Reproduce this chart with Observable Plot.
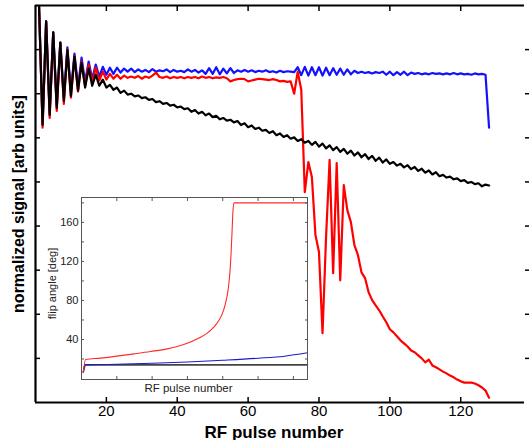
<!DOCTYPE html>
<html><head><meta charset="utf-8">
<script src="https://cdn.jsdelivr.net/npm/d3@7"></script>
<script src="https://cdn.jsdelivr.net/npm/@observablehq/plot@0.6"></script>
<style>
body{margin:0;background:#fff;}
#wrap{position:relative;width:529px;height:440px;font-family:"Liberation Sans",Arial,sans-serif;}
#inset{position:absolute;left:40px;top:190px;}
</style></head><body><div id="wrap"><div id="main"></div><div id="inset"></div></div>
<script>
const FONT = '"Liberation Sans", Arial, sans-serif';
const pulses = d3.range(1, 129);

const blackSignal = [8.98, 6.30, 8.64, 6.52, 8.39, 6.68, 8.16, 6.84, 7.99, 6.95, 7.84, 7.07, 7.70, 7.14, 7.57, 7.18, 7.43, 7.18, 7.32, 7.14, 7.20, 7.09, 7.14, 7.02, 7.07, 6.98, 7.00,
  6.94, 6.96, 6.90, 6.92, 6.86, 6.88, 6.81, 6.83, 6.77, 6.79, 6.73, 6.75, 6.69, 6.71, 6.65,
  6.67, 6.59, 6.63, 6.55, 6.59, 6.51, 6.55, 6.47, 6.50, 6.42,
  6.45, 6.39, 6.41, 6.35,
  6.38, 6.29, 6.33, 6.24, 6.28, 6.20,
  6.23, 6.16, 6.18,
  6.11, 6.15, 6.06, 6.10, 6.02, 6.06, 5.98,
  6.01, 5.93, 5.97, 5.89, 5.93,
  5.84, 5.91, 5.80, 5.87, 5.76, 5.83, 5.72, 5.79, 5.68, 5.75, 5.64, 5.71, 5.60, 5.67, 5.56, 5.63, 5.52, 5.59, 5.48, 5.55, 5.44, 5.51,
  5.41, 5.45, 5.37, 5.41,
  5.33, 5.38, 5.29, 5.34, 5.25, 5.30, 5.21, 5.26, 5.17, 5.22, 5.13,
  5.16, 5.10, 5.12, 5.06, 5.08, 5.02, 5.04, 4.98, 5.00, 4.95, 4.97, 4.90, 4.94, 4.92];

const blueSignal = [8.98, 6.30, 8.64, 6.57, 8.39, 6.75, 8.16, 6.91, 8.05, 7.05, 7.91, 7.16, 7.82, 7.27, 7.73, 7.34, 7.66, 7.39, 7.61, 7.43, 7.59, 7.45, 7.59, 7.48, 7.57, 7.50, 7.57,
  7.49, 7.55, 7.50, 7.54, 7.49, 7.56, 7.50, 7.53, 7.51, 7.55, 7.49, 7.54, 7.50, 7.52, 7.49, 7.55, 7.50, 7.54, 7.48, 7.53,
  7.45, 7.58, 7.45, 7.60, 7.44, 7.57, 7.46, 7.58, 7.47,
  7.53, 7.50, 7.54, 7.50, 7.53, 7.49, 7.52, 7.50, 7.53, 7.49, 7.51, 7.48, 7.52, 7.49, 7.51, 7.50,
  7.49, 7.60, 7.42, 7.61, 7.41, 7.60, 7.42, 7.60, 7.41, 7.59, 7.42, 7.58, 7.43, 7.57, 7.43, 7.55, 7.44, 7.52,
  7.47, 7.50, 7.47, 7.49, 7.46, 7.49, 7.47,
  7.50, 7.43, 7.50, 7.42, 7.49, 7.43, 7.50, 7.42, 7.48,
  7.45, 7.47, 7.44, 7.46, 7.44, 7.47, 7.45, 7.46, 7.44, 7.46, 7.44, 7.47, 7.44, 7.46, 7.44, 7.45, 7.43, 7.46, 7.44, 7.45,
  7.43, 6.23];

const redSignal = [8.98, 6.23, 8.64, 6.45, 8.39, 6.61, 8.16, 6.77, 8.00, 6.91, 7.86, 7.05, 7.73, 7.18, 7.66, 7.25, 7.59, 7.30, 7.50, 7.32, 7.45, 7.34, 7.43, 7.34, 7.41, 7.36,
  7.39, 7.36, 7.40, 7.34, 7.39, 7.36, 7.41, 7.48, 7.38, 7.36, 7.39, 7.35, 7.38, 7.36, 7.38, 7.35, 7.38, 7.36, 7.38, 7.35, 7.39, 7.36, 7.38, 7.35, 7.37, 7.36, 7.38, 7.35,
  7.28, 7.31, 7.33, 7.34, 7.33, 7.28, 7.30, 7.32, 7.34, 7.33, 7.32, 7.31, 7.33, 7.31, 7.28, 7.29, 7.27, 7.28,
  7.00, 7.50, 7.09, 4.77, 5.45, 5.11, 3.80, 3.41, 1.57, 3.75, 5.50, 2.93, 5.43, 2.77, 4.93, 4.36, 4.09, 3.57, 3.34, 2.95, 2.82, 2.50, 2.32, 2.20, 2.09, 1.95, 1.82, 1.66, 1.59, 1.50, 1.41, 1.34, 1.27, 1.18, 1.14, 1.07, 1.00, 0.91, 0.97, 0.84, 0.80, 0.75, 0.70, 0.66, 0.61, 0.57, 0.52, 0.48, 0.45, 0.45, 0.45, 0.43, 0.39, 0.34, 0.27, 0.11];

const xTicks = [20, 40, 60, 80, 100, 120];
const yTicks = [1, 2, 3, 4, 5, 6, 7, 8];

// inset: flip angle schedules
const insetRedPulse = [1, 2.3, 10.8, 29.6, 39.1, 48.5, 57.9, 67.4, 71.2, 74.9, 77.8, 79.7, 81.5, 83.0, 84.0, 84.7, 85.3, 85.7, 86.3, 128];
const insetRedAngle = [6.5, 19.5, 20.9, 25.3, 27.7, 30.4, 34.9, 42.4, 46.5, 52.6, 59.5, 66.3, 76.6, 90.3, 107.4, 127.9, 151.8, 168.9, 180, 180];
const insetBluePulse = [1, 2, 20, 40, 60, 80, 100, 115, 128];
const insetBlueAngle = [6.5, 14, 14.6, 15.6, 16.9, 18.7, 20.8, 22.9, 26.4];
const insetBlackPulse = [1, 2, 128];
const insetBlackAngle = [6.5, 14, 14];
const insetYTicks = [20, 40, 60, 80, 100, 120, 140, 160, 180];
const insetYLabels = [40, 80, 120, 160];
const insetXTicks = [20, 40, 60, 80, 100, 120];

const toRows = (xs, ys) => ys.map((v, i) => ({n: xs[i], v}));

const main = Plot.plot({
  width: 529, height: 440,
  marginLeft: 35, marginRight: 5, marginTop: 5, marginBottom: 38,
  style: {fontFamily: FONT, fontSize: "15px", background: "white", overflow: "visible"},
  x: {domain: [0, 138]},
  y: {domain: [0, 9]},
  marks: [
    Plot.line(toRows(pulses, blueSignal), {x: "n", y: "v", stroke: "#1212ff", strokeWidth: 2.2}),
    Plot.line(toRows(pulses, redSignal), {x: "n", y: "v", stroke: "#ff0000", strokeWidth: 2.2}),
    Plot.line(toRows(pulses, blackSignal), {x: "n", y: "v", stroke: "#000000", strokeWidth: 2.2}),
    Plot.axisX(xTicks, {anchor: "bottom", tickSize: -5, tickFormat: () => "", label: null, strokeWidth: 1.5}),
    Plot.axisX(xTicks, {anchor: "bottom", tickSize: 0, tickPadding: 3, label: null, fontSize: 15}),
    Plot.axisX(xTicks, {anchor: "top", tickSize: -5, tickFormat: () => "", label: null, strokeWidth: 1.5}),
    Plot.axisY(yTicks, {anchor: "left", tickSize: -5, tickFormat: () => "", label: null, strokeWidth: 1.5}),
    Plot.axisY(yTicks, {anchor: "right", tickSize: 5, tickFormat: () => "", label: null, strokeWidth: 1.5}),
    Plot.ruleX([0], {strokeWidth: 2.2}),
    Plot.ruleY([0], {strokeWidth: 2.2}),
    Plot.ruleY([9], {strokeWidth: 2.2}),
    Plot.text(["RF pulse number"], {frameAnchor: "bottom", dy: 35, dx: -6, fontSize: 17, fontWeight: "bold"}),
    Plot.text(["normalized signal [arb units]"], {frameAnchor: "left", textAnchor: "middle", rotate: -90, dx: -17, dy: 0, fontSize: 16, fontWeight: "bold"})
  ]
});
document.getElementById("main").append(main);

const inset = Plot.plot({
  width: 275, height: 205,
  marginLeft: 41, marginRight: 8, marginTop: 7, marginBottom: 16,
  style: {fontFamily: FONT, fontSize: "11px", background: "transparent", overflow: "visible", color: "#222"},
  x: {domain: [0, 128]},
  y: {domain: [-1, 185.5]},
  marks: [
    Plot.frame({fill: "white", stroke: "none"}),
    Plot.line(toRows(insetBlackPulse, insetBlackAngle), {x: "n", y: "v", stroke: "#444", strokeWidth: 1.6}),
    Plot.line(toRows(insetBluePulse, insetBlueAngle), {x: "n", y: "v", stroke: "#1a1acc", strokeWidth: 1.1, curve: "monotone-x"}),
    Plot.line(toRows(insetRedPulse, insetRedAngle), {x: "n", y: "v", stroke: "#ff2a2a", strokeWidth: 1.1, curve: "monotone-x"}),
    Plot.frame({stroke: "#555", strokeWidth: 1}),
    Plot.axisY(insetYTicks, {anchor: "left", tickSize: -3, tickFormat: () => "", label: null, stroke: "#555"}),
    Plot.axisY(insetYLabels, {anchor: "left", tickSize: 0, tickPadding: 3, label: null, fontSize: 11}),
    Plot.axisY(insetYTicks, {anchor: "right", tickSize: -3, tickFormat: () => "", label: null, stroke: "#555"}),
    Plot.axisX(insetXTicks, {anchor: "top", tickSize: -3, tickFormat: () => "", label: null, stroke: "#555"}),
    Plot.axisX(insetXTicks, {anchor: "bottom", tickSize: -3, tickFormat: () => "", label: null, stroke: "#555"}),
    Plot.text(["RF pulse number"], {frameAnchor: "bottom", dy: 12, dx: -6, fontSize: 11.5}),
    Plot.text(["flip angle [deg]"], {frameAnchor: "left", textAnchor: "middle", rotate: -90, dx: -29, dy: -5, fontSize: 11})
  ]
});
document.getElementById("inset").append(inset);
</script>
</body></html>
